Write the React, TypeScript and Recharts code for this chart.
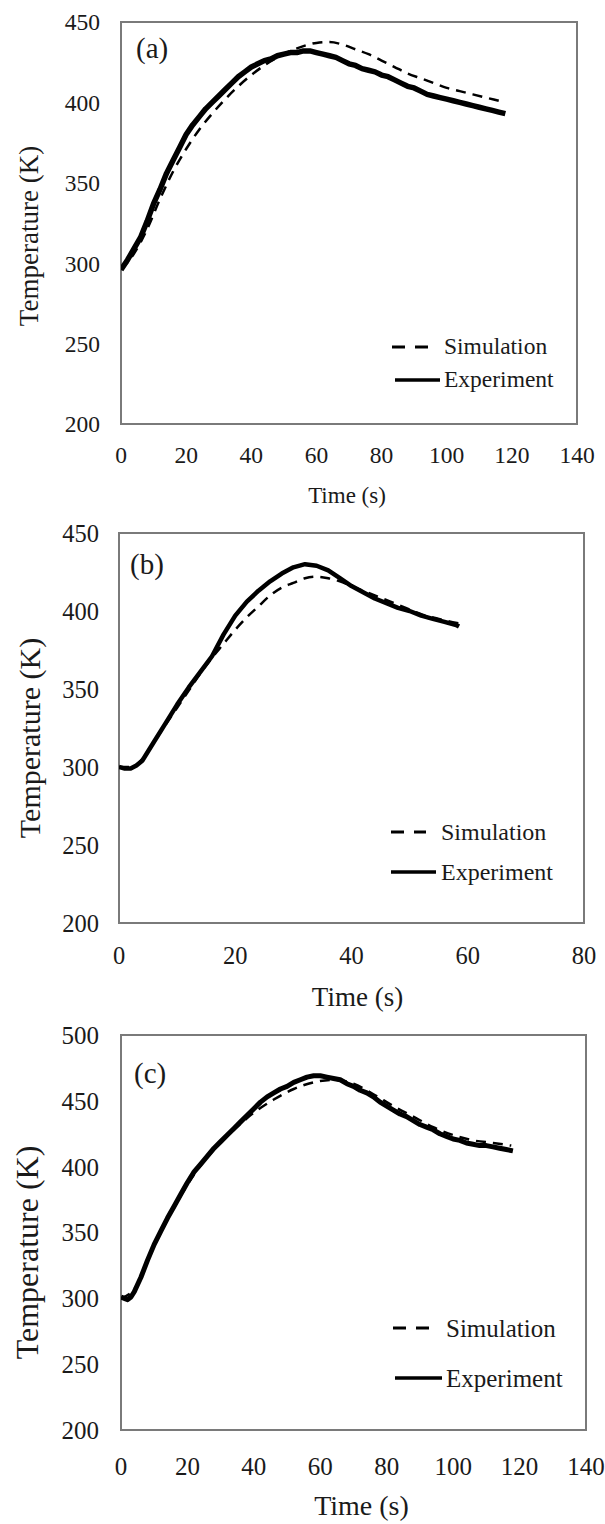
import React from 'react';
import { LineChart, Line, XAxis, YAxis, ReferenceArea, Legend, Label } from 'recharts';

const FONT = "'Liberation Serif', 'Times New Roman', serif";
const TEXT = '#1a1a1a';
const BORDER = '#7a7a7a';

// ---------- Panel (a) ----------
const expTimeA = [0, 2, 4, 6, 8, 10, 12, 14, 16, 18, 20, 22, 24, 26, 28, 30, 32, 34, 36, 38, 40, 42, 44, 46, 48, 50, 52, 54, 56, 58, 60, 62, 64, 66, 68, 70, 72, 74, 76, 78, 80, 82, 84, 86, 88, 90, 92, 94, 96, 98, 100, 102, 104, 106, 108, 110, 112, 114, 116, 118];
const expTempA = [296, 302, 309, 316, 326, 337, 346, 356, 364, 372, 380, 386, 391, 396, 400, 404, 408, 412, 416, 419, 422, 424, 426, 427, 429, 430, 431, 431, 432, 432, 431, 430, 429, 428, 426, 424, 423, 421, 420, 419, 417, 416, 414, 412, 410, 409, 407, 405, 404, 403, 402, 401, 400, 399, 398, 397, 396, 395, 394, 393];
const simTimeA = [0, 4, 8, 12, 16, 20, 24, 28, 32, 36, 40, 44, 48, 52, 56, 60, 64, 68, 72, 76, 80, 84, 88, 92, 96, 100, 104, 108, 112, 116, 118];
const simTempA = [296, 306, 321, 340, 357, 371, 383, 393, 402, 410, 417, 423, 428, 432, 435, 437, 437.5, 436, 433, 430, 426, 422, 418, 415, 412, 409, 407, 405, 403, 401, 400];
const xTicksA = [0, 20, 40, 60, 80, 100, 120, 140];
const yTicksA = [200, 250, 300, 350, 400, 450];

// ---------- Panel (b) ----------
const expTimeB = [0, 1, 2, 3, 4, 6, 8, 10, 12, 14, 16, 18, 20, 22, 24, 26, 28, 30, 32, 34, 36, 38, 40, 42, 44, 46, 48, 50, 52, 54, 56, 58, 58.5];
const expTempB = [300, 299, 299, 301, 304, 316, 328, 340, 351, 361, 371, 385, 397, 406, 413, 419, 424, 428, 430, 429, 426, 421, 416, 412, 408, 405, 402, 400, 397, 395, 393, 391, 390];
const simTimeB = [0, 2, 4, 6, 8, 10, 12, 14, 16, 18, 20, 22, 24, 26, 28, 30, 32, 34, 36, 38, 40, 44, 48, 52, 56, 58.5];
const simTempB = [300, 300, 305, 316, 327, 338, 349, 360, 370, 379, 388, 396, 403, 410, 415, 418, 421, 422, 421, 419, 416, 410, 404, 398, 394, 392];
const xTicksB = [0, 20, 40, 60, 80];
const yTicksB = [200, 250, 300, 350, 400, 450];

// ---------- Panel (c) ----------
const expTimeC = [0, 1, 2, 3, 4, 6, 8, 10, 12, 14, 16, 18, 20, 22, 24, 26, 28, 30, 32, 34, 36, 38, 40, 42, 44, 46, 48, 50, 52, 54, 56, 58, 60, 62, 64, 66, 68, 70, 72, 74, 76, 78, 80, 82, 84, 86, 88, 90, 92, 94, 96, 98, 100, 102, 104, 106, 108, 110, 112, 114, 116, 118];
const expTempC = [301, 300, 299, 301, 305, 316, 329, 341, 351, 361, 370, 379, 388, 396, 402, 408, 414, 419, 424, 429, 434, 439, 444, 449, 453, 456, 459, 461, 464, 466, 468, 469, 469, 468, 467, 466, 463, 461, 458, 456, 453, 449, 446, 443, 440, 438, 435, 432, 430, 428, 425, 423, 421, 420, 418, 417, 416, 416, 415, 414, 413, 412];
const simTimeC = [0, 4, 10, 16, 22, 28, 34, 40, 46, 52, 58, 64, 70, 76, 82, 88, 94, 100, 106, 112, 117.5];
const simTempC = [300, 307, 340, 369, 394, 413, 428, 441, 451, 459, 464, 466, 463, 455, 446, 438, 430, 424, 420, 418, 416];
const xTicksC = [0, 20, 40, 60, 80, 100, 120, 140];
const yTicksC = [200, 250, 300, 350, 400, 450, 500];

const zip = (ts: number[], vs: number[]) => ts.map((t, i) => ({ t, T: vs[i] }));

type Cfg = {
  name: string;
  expT: number[]; expV: number[]; simT: number[]; simV: number[];
  xTicks: number[]; yTicks: number[];
  top: number; height: number; mTop: number; mRight: number; yAxisW: number; xAxisH: number;
  tickF: number; xTickMargin: number; yTickMargin: number; expW: number;
  yLabelX: number; yLabelShift: number; yLabelF: number;
  xLabelY: number; xLabelShift: number; xLabelF: number;
  tagX: number; tagY: number; tagF: number;
  legLeft: number; legTop: number; row1: number; row2: number; dashLen: number; solidStart: number; solidEnd: number; textX: number; legF: number;
};

const panels: Cfg[] = [
  {
    name: '(a)', expT: expTimeA, expV: expTempA, simT: simTimeA, simV: simTempA, xTicks: xTicksA, yTicks: yTicksA,
    top: 0, height: 510, mTop: 22, mRight: 28, yAxisW: 121, xAxisH: 86,
    tickF: 23.5, xTickMargin: 22, yTickMargin: 21, expW: 5.5,
    yLabelX: 29, yLabelShift: 13, yLabelF: 27,
    xLabelY: 495, xLabelShift: -2, xLabelF: 23,
    tagX: 136, tagY: 48, tagF: 29,
    legLeft: 392, legTop: 320, row1: 27, row2: 60, dashLen: 36, solidStart: 3, solidEnd: 48, textX: 52, legF: 23.5,
  },
  {
    name: '(b)', expT: expTimeB, expV: expTempB, simT: simTimeB, simV: simTempB, xTicks: xTicksB, yTicks: yTicksB,
    top: 510, height: 520, mTop: 23, mRight: 21, yAxisW: 119, xAxisH: 107,
    tickF: 24.5, xTickMargin: 24, yTickMargin: 20, expW: 4.5,
    yLabelX: 29, yLabelShift: 10, yLabelF: 30,
    xLabelY: 487, xLabelShift: 6, xLabelF: 27,
    tagX: 130, tagY: 54, tagF: 29,
    legLeft: 391, legTop: 295, row1: 27, row2: 67, dashLen: 35, solidStart: 0, solidEnd: 45, textX: 50, legF: 24,
  },
  {
    name: '(c)', expT: expTimeC, expV: expTempC, simT: simTimeC, simV: simTempC, xTicks: xTicksC, yTicks: yTicksC,
    top: 1010, height: 514, mTop: 25, mRight: 19, yAxisW: 121, xAxisH: 94,
    tickF: 25, xTickMargin: 27, yTickMargin: 22, expW: 5,
    yLabelX: 27, yLabelShift: 20, yLabelF: 32,
    xLabelY: 495, xLabelShift: 8, xLabelF: 28,
    tagX: 134, tagY: 63, tagF: 29,
    legLeft: 393, legTop: 291, row1: 27, row2: 77, dashLen: 37, solidStart: 2, solidEnd: 49, textX: 53, legF: 25,
  },
];

function LegendBox({ cfg }: { cfg: Cfg }) {
  const textStyle: React.CSSProperties = {
    position: 'absolute', left: cfg.textX, transform: 'translateY(-50%)', lineHeight: 1,
    whiteSpace: 'nowrap', fontFamily: FONT, fontSize: cfg.legF, color: TEXT,
  };
  return (
    <div style={{ position: 'relative', width: 200, height: cfg.row2 + 25 }}>
      <svg style={{ position: 'absolute', left: 0, top: cfg.row1 - 3 }} width={60} height={6}>
        <line x1={0} y1={3} x2={cfg.dashLen} y2={3} stroke="#000" strokeWidth={3} strokeDasharray="13 10" />
      </svg>
      <span style={{ ...textStyle, top: cfg.row1 }}>Simulation</span>
      <svg style={{ position: 'absolute', left: 0, top: cfg.row2 - 3 }} width={60} height={6}>
        <line x1={cfg.solidStart} y1={3} x2={cfg.solidEnd} y2={3} stroke="#000" strokeWidth={3.5} />
      </svg>
      <span style={{ ...textStyle, top: cfg.row2 }}>Experiment</span>
    </div>
  );
}

function Panel({ cfg }: { cfg: Cfg }) {
  const expData = zip(cfg.expT, cfg.expV);
  const simData = zip(cfg.simT, cfg.simV);
  const xDomain: [number, number] = [cfg.xTicks[0], cfg.xTicks[cfg.xTicks.length - 1]];
  const yDomain: [number, number] = [cfg.yTicks[0], cfg.yTicks[cfg.yTicks.length - 1]];
  const tickStyle = { fontSize: cfg.tickF, fill: TEXT, fontFamily: FONT };

  const xLabel = (p: any) => {
    const vb = p.viewBox || {};
    const cx = vb.x + vb.width / 2 + cfg.xLabelShift;
    return (
      <text x={cx} y={cfg.xLabelY} textAnchor="middle" dominantBaseline="central"
        fontFamily={FONT} fontSize={cfg.xLabelF} fill={TEXT}>Time (s)</text>
    );
  };
  const yLabel = (p: any) => {
    const vb = p.viewBox || {};
    const cx = cfg.yLabelX;
    const cy = vb.y + vb.height / 2 + cfg.yLabelShift;
    return (
      <text x={cx} y={cy} transform={`rotate(-90 ${cx} ${cy})`} textAnchor="middle" dominantBaseline="central"
        fontFamily={FONT} fontSize={cfg.yLabelF} fill={TEXT}>Temperature (K)</text>
    );
  };
  const tag = () => (
    <text x={cfg.tagX} y={cfg.tagY} textAnchor="start" dominantBaseline="central"
      fontFamily={FONT} fontSize={cfg.tagF} fill={TEXT}>{cfg.name}</text>
  );

  return (
    <div style={{ position: 'absolute', left: 0, top: cfg.top, width: 605, height: cfg.height }}>
      <LineChart width={605} height={cfg.height} margin={{ top: cfg.mTop, right: cfg.mRight, left: 0, bottom: 0 }}>
        <XAxis type="number" dataKey="t" domain={xDomain} ticks={cfg.xTicks} interval={0} allowDataOverflow
          tickLine={false} axisLine={false} tickSize={0} tickMargin={cfg.xTickMargin} height={cfg.xAxisH} tick={tickStyle}>
          <Label content={xLabel} />
        </XAxis>
        <YAxis type="number" domain={yDomain} ticks={cfg.yTicks} interval={0} allowDataOverflow
          tickLine={false} axisLine={false} tickSize={0} tickMargin={cfg.yTickMargin} width={cfg.yAxisW} tick={tickStyle}>
          <Label content={yLabel} />
        </YAxis>
        <ReferenceArea x1={xDomain[0]} x2={xDomain[1]} y1={yDomain[0]} y2={yDomain[1]}
          fill="#ffffff" fillOpacity={0} stroke={BORDER} strokeWidth={2} strokeOpacity={1} ifOverflow="visible">
          <Label content={tag} />
        </ReferenceArea>
        <Line data={simData} dataKey="T" type="monotone" stroke="#000" strokeWidth={2.5} strokeDasharray="10 7"
          dot={false} activeDot={false} isAnimationActive={false} />
        <Line data={expData} dataKey="T" type="linear" stroke="#000" strokeWidth={cfg.expW} strokeLinejoin="round"
          dot={false} activeDot={false} isAnimationActive={false} />
        <Legend layout="horizontal" verticalAlign="middle" align="center"
          wrapperStyle={{ left: cfg.legLeft, top: cfg.legTop, width: 200 }}
          content={() => <LegendBox cfg={cfg} />} />
      </LineChart>
    </div>
  );
}

export default function App() {
  return (
    <div style={{ position: 'absolute', left: 0, top: 0, width: 605, height: 1524, background: '#fff' }}>
      {panels.map((p) => <Panel key={p.name} cfg={p} />)}
    </div>
  );
}
